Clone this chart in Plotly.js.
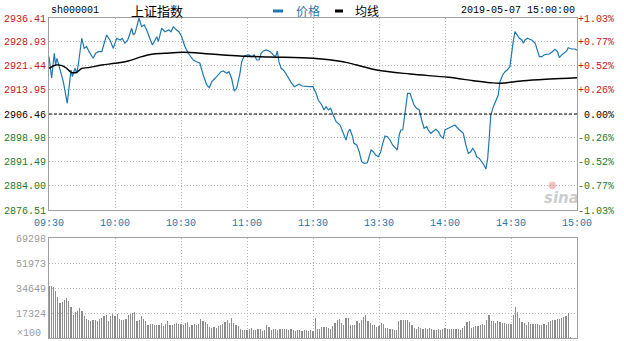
<!DOCTYPE html>
<html>
<head>
<meta charset="utf-8">
<script src="https://cdn.plot.ly/plotly-3.0.1.min.js"></script>
<style>html,body{margin:0;padding:0;background:#fff;}#chart{width:624px;height:341px;}</style>
</head>
<body>
<div id="chart"></div>
<script>
// ---- data (minutes since 09:30, lunch break removed; 120 = 11:30/13:00) ----
const priceMin = [0,1.2,2.4,3,3.6,6.5,8.3,10,10.6,11.8,12.6,13.3,14.9,16,17.1,18.2,20.1,21.2,22.4,24,25.1,26.2,27.7,29.2,30.8,32.3,33.3,34.5,35.8,37.6,38.3,39.1,40.9,42.1,43.3,44.4,46.4,47,48.2,49,49.7,50.5,51.2,52.7,54.5,55.5,56.5,58,59.1,60.3,61.8,63.3,65.6,67.1,68.6,70.1,71.7,72.9,74,75.5,77,78.2,79.2,80.8,81.8,83,84.2,85.3,86.8,87.6,88.8,89.9,90.9,92.1,93.3,94.4,95.5,96.4,97.4,98.9,100.5,102,103,103.8,104.5,105.5,106.5,107.6,108.8,110.3,111.5,112.6,113.6,115.1,116.7,118.2,120,
121.4,122.4,124,125,125.9,127,128,129.2,130.5,132.3,133.8,135,136,136.8,138,138.6,139.9,141,142.1,143.3,144.7,145.6,146.4,147.4,148.5,149.7,150.8,151.7,152.7,153.8,155,156.2,157.3,158.3,159.2,159.9,160.8,161.5,162.3,163,164.1,164.9,165.9,167.1,168.3,169.4,170.5,171.7,172.4,173.5,174.7,175.9,177,178.2,179.2,180,181.5,183.1,184.5,185.6,186.8,188.3,189.5,190.6,191.7,192.6,193.6,194.4,195.6,196.7,197.7,198.6,199.4,200.1,200.8,202,203.2,204.2,205,206.2,207.3,208.3,209.5,210.3,211,211.8,212.7,213.8,214.9,215.6,216.4,217.4,218.3,219.4,221,222,222.9,224,225,226.2,227.4,228.5,230,231.1,232,233,234.1,235.3,236,237.6,239.1,240];
const priceVal = [2924.34,2917.70,2925.40,2921.75,2923.84,2916.54,2909.80,2920.19,2918.10,2920.72,2919.16,2921.75,2930.08,2926.96,2927.46,2925.90,2923.84,2925.40,2925.90,2925.90,2928.52,2931.11,2929.55,2926.96,2930.08,2929.55,2930.08,2928.52,2929.55,2933.20,2931.11,2931.64,2936.33,2933.70,2934.23,2932.67,2929.02,2927.99,2929.55,2930.58,2929.02,2931.64,2933.20,2932.14,2932.67,2932.14,2933.70,2932.67,2932.14,2930.58,2927.46,2925.40,2923.31,2922.78,2922.28,2918.63,2915.51,2914.67,2916.54,2917.60,2918.63,2919.66,2919.88,2919.16,2919.66,2917.60,2913.64,2914.48,2919.16,2922.78,2924.65,2924.65,2924.87,2924.34,2924.87,2923.31,2923.31,2925.40,2926.12,2926.43,2925.90,2924.87,2924.34,2926.12,2922.78,2920.72,2920.19,2919.16,2917.60,2916.04,2914.98,2915.51,2915.73,2915.20,2914.98,2914.98,2914.98,
2912.92,2910.83,2909.27,2907.71,2908.74,2907.71,2908.24,2906.15,2904.06,2903.03,2900.44,2898.35,2900.94,2901.69,2899.38,2897.32,2896.79,2894.69,2891.57,2891.07,2891.26,2893.66,2895.23,2894.69,2893.66,2893.13,2894.69,2897.32,2899.59,2899.38,2898.35,2896.79,2896.07,2895.23,2899.91,2901.47,2901.47,2905.12,2910.30,2912.92,2912.92,2911.36,2909.27,2908.24,2907.71,2904.59,2902.00,2902.50,2901.47,2900.44,2900.94,2901.69,2900.94,2899.38,2898.88,2901.47,2902.00,2902.50,2903.03,2902.18,2901.47,2900.44,2896.79,2894.20,2894.69,2895.76,2894.69,2893.13,2892.63,2891.57,2890.54,2889.30,2892.63,2898.88,2906.15,2908.74,2910.83,2912.39,2916.54,2918.63,2919.66,2920.19,2921.22,2925.90,2929.02,2932.14,2931.11,2930.08,2929.55,2928.52,2929.55,2930.08,2929.87,2929.55,2928.52,2926.43,2924.34,2924.34,2924.87,2925.09,2925.18,2925.72,2926.65,2925.90,2924.03,2924.87,2925.40,2926.12,2927.15,2926.74,2926.74,2926.34];

const avgMin = [0,3.2,5.9,8,10,12.6,14.9,17.9,24,30,36,42.1,46.7,52.7,61,73.2,86.8,100.5,120,133.6,139.9,149,164.1,181.5,192.9,200.5,205,215.6,227.7,240];
const avgVal = [2920.72,2921.75,2921.53,2920.72,2919.47,2919.47,2920.72,2920.91,2921.75,2922.28,2923.00,2924.34,2925.09,2925.40,2925.72,2925.18,2924.56,2924.25,2923.84,2922.78,2921.75,2920.19,2918.94,2917.91,2916.85,2916.23,2916.04,2916.85,2917.38,2917.79];

// volume per minute (x100), index 0..240
const volume = [36000,
35800,35100,32800,28200,24300,24900,26600,27700,25400,21300,
16200,18000,18900,20800,18900,15000,13400,12700,11600,12700,
12200,11600,13400,13900,15000,16200,11600,15000,16600,15000,
16600,13400,12700,12700,13400,15700,16600,17300,18000,11600,
12700,15000,13400,11600,9200,9700,9900,9200,8800,9200,
10100,8100,9700,11600,8800,9200,9900,10400,9700,9900,
9200,10400,10900,7400,8800,9900,9200,9600,13200,12000,
10900,9700,7400,6900,7400,6900,8100,9200,9700,11100,
12500,10400,14100,10400,9200,8300,6500,5800,5500,5800,
6200,6900,5500,5800,6500,6000,5100,5800,9200,7400,
5800,6200,6100,5800,6200,6500,6000,6200,5800,6200,
5500,5100,5600,5500,5100,5300,5500,5200,5400,5100,
13900,
6200,6200,7400,7900,7600,6900,6200,8500,10200,12700,
13400,10200,9200,13600,13900,8800,9200,9200,11600,10400,
12700,14300,16200,11600,10400,9200,8800,7900,8100,10400,
9900,6900,6900,6500,6200,5800,5800,12000,12200,12200,
12700,12200,10900,9200,6900,6200,7400,6900,6200,6900,
6500,6900,6200,5800,5800,6200,5500,6000,6900,6500,
6200,6200,6200,6200,6200,5800,6900,8100,10900,11600,
6900,7400,8100,8500,9200,9700,9200,12700,15700,12000,
11600,10200,11600,11100,10700,10200,9900,9700,9500,16200,
21300,18000,13900,10900,10200,9200,11100,9700,9900,9700,
9700,9200,8800,9700,9200,11100,11600,12700,12200,13200,
13400,13600,14300,15000,17300,900,0,0,0];

const baseClose = 2906.46;
const priceTicks = [2876.51,2884.00,2891.49,2898.98,2906.46,2913.95,2921.44,2928.93,2936.41];
const priceTickLabels = ['2876.51','2884.00','2891.49','2898.98','2906.46','2913.95','2921.44','2928.93','2936.41'];
const pctTickLabels = ['-1.03%','-0.77%','-0.52%','-0.26%','0.00%','+0.26%','+0.52%','+0.77%','+1.03%'];
const volTicks = [0,17324,34649,51973,69298];
const volTickLabels = ['', '17324','34649','51973','69298'];
const volUnit = '×100';
const timeTicks = [0,30,60,90,120,150,180,210,240];
const timeTickLabels = ['09:30','10:00','10:30','11:00','11:30','13:30','14:00','14:30','15:00'];
const titleCode = 'sh000001';
const titleName = '上证指数';
const legendPrice = '价格';
const legendAvg = '均线';
const stamp = '2019-05-07 15:00:00';

// ---- styling ----
const RED = '#c4161c', GREEN = '#1f7a1f', BLUE = '#1f78b0', GRID = '#b8b8b8', BORDER = '#a0a0a0';
const MONO = 'Liberation Mono, DejaVu Sans Mono, monospace';
const CJK = 'Noto Sans CJK SC, sans-serif';

function colored(v, label) {
  const c = Math.abs(v - baseClose) < 0.005 ? '#000' : (v > baseClose ? RED : GREEN);
  return '<span style="color:' + c + '">' + label + '</span>';
}
const leftText = priceTicks.map((v, i) => colored(v, priceTickLabels[i]));
const rightText = priceTicks.map((v, i) => colored(v, (pctTickLabels[i].length < 6 ? '\u00a0' : '') + pctTickLabels[i]));

const traces = [
  {x: priceMin, y: priceVal, type: 'scatter', mode: 'lines', line: {color: BLUE, width: 1.2}, xaxis: 'x', yaxis: 'y', hoverinfo: 'skip'},
  {x: avgMin, y: avgVal, type: 'scatter', mode: 'lines', line: {color: '#000', width: 1.4, shape: 'spline'}, xaxis: 'x', yaxis: 'y', hoverinfo: 'skip'},
  {x: [0], y: [baseClose], type: 'scatter', mode: 'markers', marker: {opacity: 0}, xaxis: 'x', yaxis: 'y2', hoverinfo: 'skip'},
  {x: volume.map((_, i) => i), y: volume, type: 'bar', width: 0.5, marker: {color: '#8c8c8c', line: {width: 0}}, xaxis: 'x2', yaxis: 'y3', hoverinfo: 'skip'}
];

const gridCommon = {showgrid: true, gridcolor: GRID, griddash: '1px,2px', gridwidth: 1, zeroline: false,
  showline: true, linecolor: BORDER, linewidth: 1, mirror: true, ticks: '', fixedrange: true};

const layout = {
  width: 624, height: 341,
  margin: {l: 49, r: 47, t: 18, b: 3},
  paper_bgcolor: '#fff', plot_bgcolor: '#fff',
  showlegend: false, bargap: 0,
  font: {family: MONO, size: 10, color: '#000'},
  xaxis: Object.assign({}, gridCommon, {domain: [0, 1], range: [0, 240], anchor: 'y',
    tickmode: 'array', tickvals: timeTicks, ticktext: timeTickLabels, ticklabelstandoff: 3,
    tickfont: {family: MONO, size: 10, color: BLUE}}),
  yaxis: Object.assign({}, gridCommon, {domain: [0.4, 1], range: [priceTicks[0], priceTicks[8]], anchor: 'x',
    tickmode: 'array', tickvals: priceTicks, ticktext: leftText, tickfont: {family: MONO, size: 10}}),
  yaxis2: {overlaying: 'y', side: 'right', anchor: 'x', range: [priceTicks[0], priceTicks[8]],
    tickmode: 'array', tickvals: priceTicks, ticktext: rightText, tickfont: {family: MONO, size: 10},
    showgrid: false, zeroline: false, showline: false, ticks: '', fixedrange: true},
  xaxis2: Object.assign({}, gridCommon, {domain: [0, 1], range: [0, 240], anchor: 'y3',
    tickmode: 'array', tickvals: timeTicks, showticklabels: false}),
  yaxis3: Object.assign({}, gridCommon, {domain: [0, 0.3116], range: [0, volTicks[4]], anchor: 'x2',
    tickmode: 'array', tickvals: volTicks, ticktext: volTickLabels, tickfont: {family: MONO, size: 10, color: '#9a9a9a'}}),
  shapes: [
    {type: 'line', xref: 'x', yref: 'y', x0: 0, x1: 240, y0: baseClose, y1: baseClose, line: {color: '#000', width: 1, dash: '3px,2px'}},
    {type: 'line', xref: 'paper', yref: 'paper', x0: 0.4242, x1: 0.4432, y0: 1.0219, y1: 1.0219, line: {color: BLUE, width: 3}},
    {type: 'line', xref: 'paper', yref: 'paper', x0: 0.5417, x1: 0.5568, y0: 1.0219, y1: 1.0219, line: {color: '#000', width: 3}}
  ],
  annotations: [
    {text: titleCode, xref: 'paper', yref: 'paper', x: 0, y: 1.0219, xanchor: 'left', yanchor: 'middle', showarrow: false, font: {family: MONO, size: 10, color: '#000'}},
    {text: titleName, xref: 'paper', yref: 'paper', x: 0.2036, y: 1.0219, xanchor: 'center', yanchor: 'middle', showarrow: false, font: {family: CJK, size: 13, color: '#000'}},
    {text: legendPrice, xref: 'paper', yref: 'paper', x: 0.4896, y: 1.0219, xanchor: 'center', yanchor: 'middle', showarrow: false, font: {family: CJK, size: 12, color: BLUE}},
    {text: legendAvg, xref: 'paper', yref: 'paper', x: 0.6032, y: 1.0219, xanchor: 'center', yanchor: 'middle', showarrow: false, font: {family: CJK, size: 12, color: '#000'}},
    {text: stamp, xref: 'paper', yref: 'paper', x: 1, y: 1.0219, xanchor: 'right', yanchor: 'middle', showarrow: false, font: {family: MONO, size: 10, color: '#000'}},
    {text: volUnit, xref: 'paper', yref: 'paper', x: -0.011, y: 0.013, xanchor: 'right', yanchor: 'middle', showarrow: false, font: {family: MONO, size: 10, color: '#9a9a9a'}},
    {text: '<i><b>sina</b></i>', xref: 'x', yref: 'y', x: 233, y: 2880.2, xanchor: 'center', yanchor: 'middle', showarrow: false, font: {family: 'DejaVu Sans', size: 15, color: 'rgba(160,160,160,0.55)'}},
    {text: '●', xref: 'x', yref: 'y', x: 229, y: 2884.6, xanchor: 'center', yanchor: 'middle', showarrow: false, font: {family: 'DejaVu Sans', size: 10, color: 'rgba(220,80,80,0.35)'}}
  ]
};

Plotly.newPlot('chart', traces, layout, {staticPlot: true, displayModeBar: false});
</script>
</body>
</html>
